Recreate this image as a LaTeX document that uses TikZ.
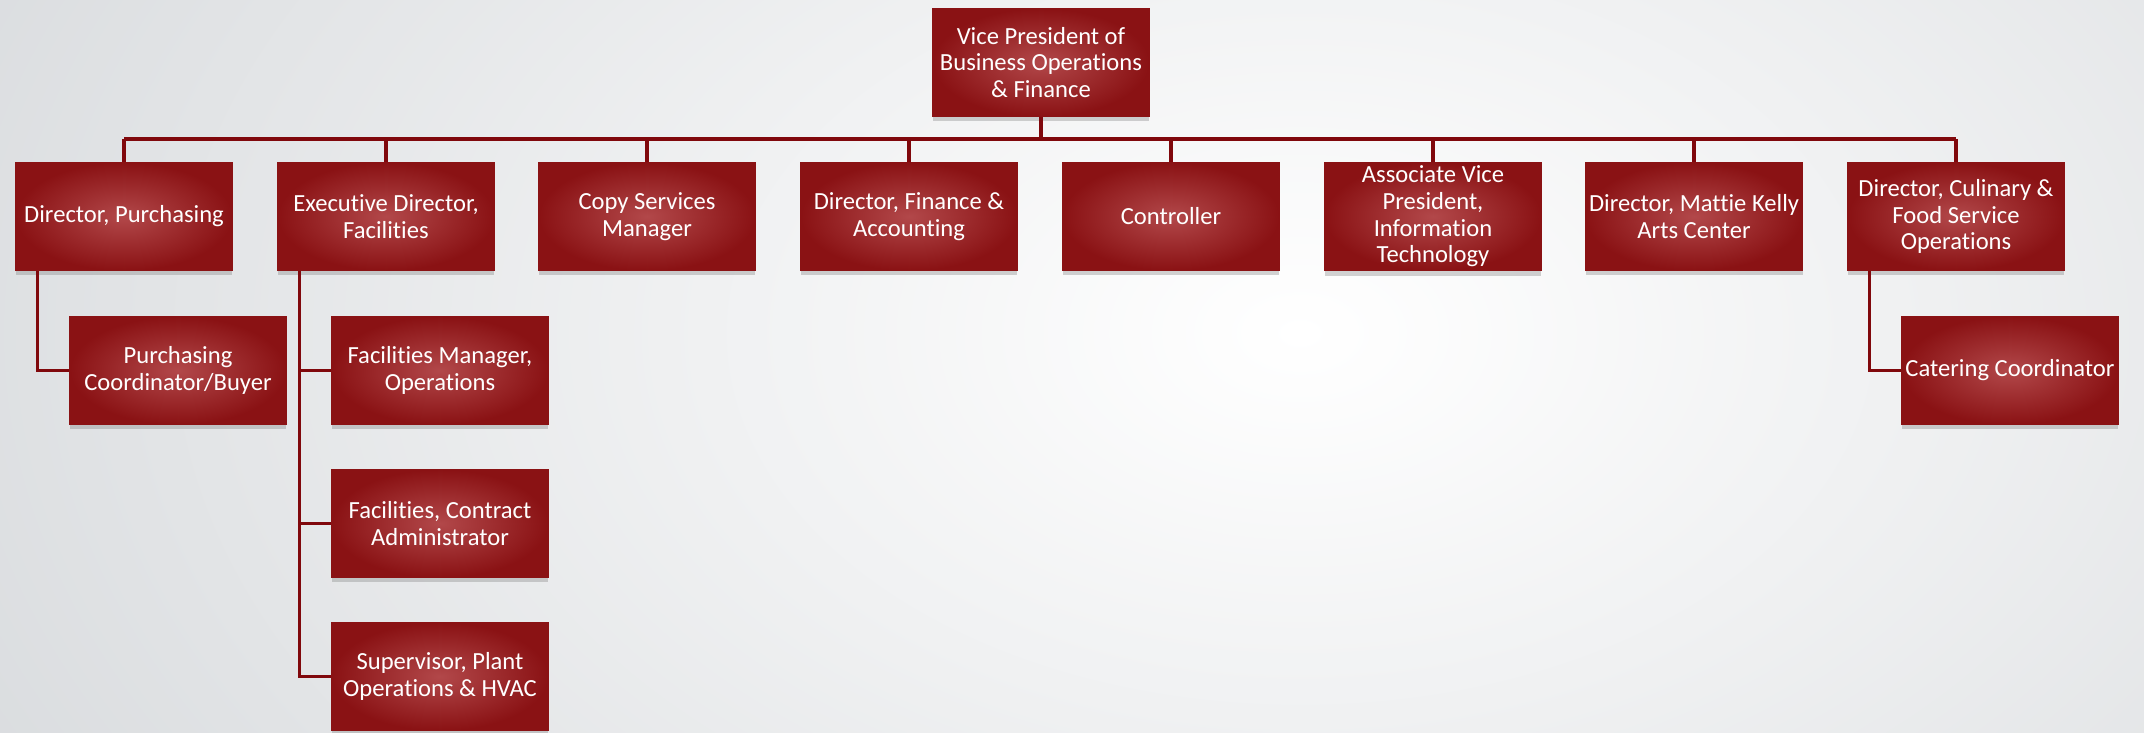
\documentclass[tikz,border=0pt]{standalone}
\usepackage{fontspec}
\setmainfont{Carlito}[Ligatures=NoCommon]
\usetikzlibrary{shadows}
\definecolor{boxdark}{RGB}{138,18,20}
\definecolor{boxlight}{RGB}{178,72,74}
\definecolor{linered}{RGB}{128,8,12}
\definecolor{bggray}{RGB}{212,215,218}
\tikzset{
  post/.style={shading=radial, inner color=boxlight, outer color=boxdark,
    draw=boxdark, line width=0.3pt, text=white, align=center,
    minimum width=2.16cm, minimum height=1.08cm, inner sep=1pt,
    font=\fontsize{7}{7.6}\selectfont,
    drop shadow={shadow xshift=0pt, shadow yshift=-0.05cm, opacity=0.35}},
  link/.style={draw=linered, line width=1.1pt}
}
\begin{document}
\begin{tikzpicture}
\begin{scope}
  \clip (0,0) rectangle (21.44,7.33);
  \shade[inner color=white, outer color=bggray] (-4,-7) rectangle (30,15);
\end{scope}
\useasboundingbox (0,0) rectangle (21.44,7.33);

\node[post] (0) at (10.41,6.705) {Vice President of\\Business Operations\\\& Finance};
\node[post] (1) at (1.24,5.165) {Director, Purchasing};
\node[post] (2) at (3.86,5.165) {Executive Director,\\Facilities};
\node[post] (3) at (6.47,5.165) {Copy Services\\Manager};
\node[post] (4) at (9.09,5.165) {Director, Finance \&\\Accounting};
\node[post] (5) at (11.71,5.165) {Controller};
\node[post] (6) at (14.33,5.165) {Associate Vice\\President,\\Information\\Technology};
\node[post] (7) at (16.94,5.165) {Director, Mattie Kelly\\Arts Center};
\node[post] (8) at (19.56,5.165) {Director, Culinary \&\\Food Service\\Operations};
\node[post] (11) at (1.78,3.625) {Purchasing\\Coordinator/Buyer};
\node[post] (21) at (4.40,3.625) {Facilities Manager,\\Operations};
\node[post] (22) at (4.40,2.095) {Facilities, Contract\\Administrator};
\node[post] (23) at (4.40,0.565) {Supervisor, Plant\\Operations \& HVAC};
\node[post] (81) at (20.10,3.625) {Catering Coordinator};
\coordinate (bus) at (10.41,5.94);

\path[link] (0) -- (bus);
\path[link] (bus -| 1) -- (bus -| 8);
\foreach \n in {1,...,8}
  \path[link] (bus -| \n) -- (\n.north);
\path[link] ([xshift=0.22cm]1.south west) |- (11.west);
\path[link] ([xshift=0.22cm]2.south west) |- (23.west);
\path[link] ([xshift=0.22cm]2.south west) |- (21.west);
\path[link] ([xshift=0.22cm]2.south west) |- (22.west);
\path[link] ([xshift=0.22cm]8.south west) |- (81.west);
\end{tikzpicture}
\end{document}
